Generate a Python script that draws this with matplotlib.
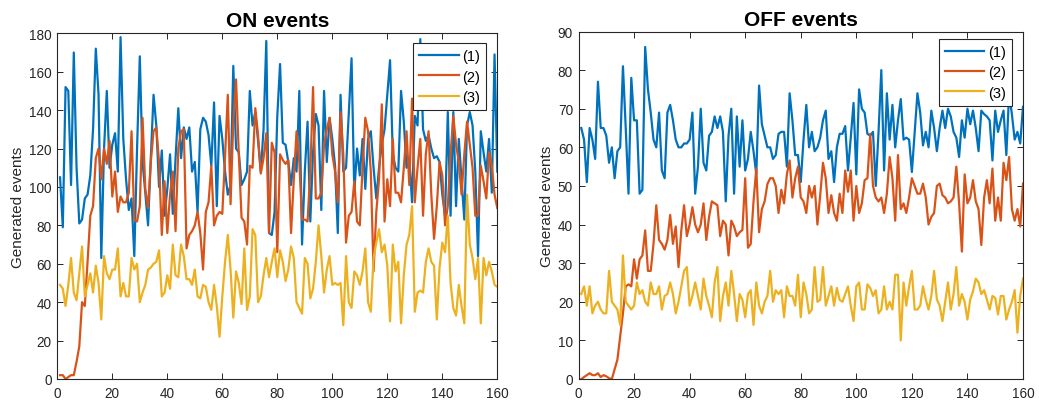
import matplotlib
matplotlib.use("Agg")
import matplotlib.pyplot as plt
import numpy as np

# ---------------- data ----------------
x = list(range(1, 161))

on_1 = [105, 79, 152, 150, 101, 170, 110, 81, 83, 94,
        96, 106, 130, 172, 148, 63, 120, 150, 110, 122,
        128, 108, 178, 125, 104, 88, 94, 64, 120, 168,
        113, 97, 80, 115, 148, 132, 100, 119, 85, 99,
        117, 86, 115, 141, 115, 131, 125, 131, 108, 113,
        87, 130, 136, 134, 127, 111, 144, 90, 137, 125,
        108, 96, 101, 163, 120, 118, 101, 104, 108, 150,
        132, 139, 124, 108, 130, 176, 76, 75, 87, 137,
        164, 123, 122, 113, 101, 115, 108, 150, 70, 108,
        134, 82, 118, 138, 132, 88, 150, 113, 136, 125,
        111, 76, 148, 108, 110, 139, 167, 97, 120, 106,
        125, 99, 125, 129, 110, 94, 110, 122, 130, 148,
        166, 117, 110, 108, 150, 134, 110, 115, 92, 137,
        132, 177, 130, 124, 127, 120, 115, 116, 113, 96,
        85, 139, 85, 139, 90, 125, 104, 83, 132, 139,
        132, 108, 64, 129, 118, 108, 125, 97, 169, 108]

on_2 = [2, 2, 0, 1, 2, 2, 9, 17, 40, 38,
        61, 85, 90, 115, 120, 104, 120, 112, 124, 95,
        108, 87, 95, 92, 92, 97, 129, 83, 82, 90,
        136, 99, 89, 113, 129, 131, 113, 75, 103, 76,
        96, 108, 77, 120, 129, 130, 68, 75, 77, 80,
        87, 76, 57, 87, 92, 111, 80, 85, 87, 86,
        116, 148, 91, 134, 156, 117, 84, 82, 70, 111,
        110, 141, 127, 107, 115, 128, 76, 123, 118, 66,
        117, 114, 112, 114, 76, 104, 129, 113, 83, 83,
        82, 108, 152, 94, 94, 97, 122, 130, 136, 117,
        108, 92, 139, 117, 71, 85, 87, 103, 82, 80,
        110, 136, 129, 108, 56, 87, 104, 143, 82, 104,
        90, 125, 97, 97, 92, 110, 129, 101, 146, 92,
        110, 125, 85, 117, 129, 96, 73, 90, 113, 106,
        80, 90, 117, 137, 122, 113, 96, 117, 134, 122,
        110, 85, 85, 111, 103, 94, 118, 111, 96, 89]

on_3 = [49, 47, 38, 49, 63, 45, 41, 55, 69, 43,
        49, 55, 45, 59, 50, 31, 64, 55, 52, 57,
        57, 68, 43, 50, 43, 43, 63, 57, 60, 40,
        45, 49, 57, 58, 60, 61, 67, 43, 45, 54,
        47, 70, 54, 53, 70, 64, 52, 52, 49, 57,
        43, 42, 49, 48, 40, 36, 49, 38, 22, 43,
        61, 75, 57, 32, 56, 50, 39, 68, 36, 43,
        78, 75, 40, 43, 54, 63, 53, 61, 68, 53,
        67, 61, 51, 57, 69, 63, 40, 37, 34, 63,
        60, 42, 47, 61, 80, 64, 45, 57, 64, 49,
        50, 49, 50, 28, 64, 40, 37, 56, 54, 49,
        56, 68, 40, 35, 63, 71, 78, 66, 70, 59,
        30, 70, 56, 61, 29, 54, 70, 75, 90, 35,
        45, 46, 45, 61, 68, 61, 59, 31, 58, 71,
        66, 85, 50, 37, 33, 49, 38, 29, 96, 70,
        63, 52, 63, 29, 63, 54, 61, 56, 49, 48]

off_1 = [65, 62, 51, 65, 62, 57, 77, 65, 65, 63,
         56, 60, 52, 59, 60, 81, 65, 48, 78, 67,
         67, 48, 49, 86, 75, 69, 62, 60, 69, 54,
         52, 69, 71, 67, 62, 60, 60, 61, 61, 62,
         69, 48, 55, 70, 56, 54, 63, 64, 68, 65,
         68, 64, 46, 63, 70, 48, 68, 55, 67, 54,
         57, 64, 59, 53, 76, 66, 63, 60, 60, 57,
         58, 63.5, 64, 64, 55, 74, 67, 58, 58, 51,
         62, 71, 60, 64, 59, 60, 62.5, 67, 69.5, 57,
         59, 51, 60, 63.5, 63.5, 65.5, 54, 62.5, 71.5, 53,
         75, 70, 69, 63.5, 63, 64, 50, 64, 80, 54,
         74, 62, 71, 60, 67, 72.5, 62, 62.5, 62, 53.6,
         64, 74, 69, 60.5, 64, 60, 69.5, 65, 59, 65,
         69.5, 65, 70, 68, 64, 62.5, 57.5, 67, 62.5, 70,
         66, 69.5, 65, 59, 69.5, 68.6, 68, 67, 56.6, 69.5,
         64, 67, 69.5, 58, 74, 68.6, 62, 64, 61, 70.5]

off_2 = [0, 0.5, 1, 1.5, 1, 1, 1.5, 0.5, 1, 0.7,
         0.2, 0, 2.5, 5, 11, 17, 24, 24.5, 24, 31,
         26, 31, 32, 38.5, 28, 28, 35, 45, 36, 35,
         33.5, 36, 42.5, 35, 39.5, 29, 38.5, 45, 37, 40,
         44.5, 40, 38, 40, 45.5, 36, 42, 46, 45.5, 45,
         37, 41, 40, 32, 41, 39.5, 37, 38, 38.6, 52,
         34, 35, 46, 54.5, 38, 44, 46, 50.5, 52, 52,
         50, 43, 49, 45.5, 53, 56.6, 47, 52, 55, 47,
         46, 43, 50, 47, 50, 40, 47.6, 56, 52, 43,
         47.6, 43, 41, 48, 43, 54, 48.5, 54, 41, 50,
         43, 45.5, 51.5, 52, 63.5, 50, 47, 46, 47, 43,
         48, 57.5, 52, 41, 58, 44, 45.5, 43, 47, 52,
         50, 48, 48, 50.6, 47, 40, 42, 43, 50, 50.6,
         47.6, 47, 45.5, 46, 47, 55, 45.5, 33, 53, 45.5,
         47, 51.5, 46, 44, 34.7, 47, 51.5, 45.5, 54.5, 41,
         47, 41, 56, 51.5, 57.5, 44, 41, 44, 39.5, 50.6]

off_3 = [22, 24, 19, 24, 17, 19, 20, 18, 17, 17,
         28, 20, 19, 18, 14, 32, 20, 19, 18, 19,
         25, 22, 23, 20, 19, 25, 22, 22, 24, 18,
         21.5, 22, 25, 22, 17, 20, 24, 28, 29, 19,
         21.5, 25, 21.5, 18, 26, 21.5, 19, 16, 25, 29,
         15, 21.5, 25, 19, 28, 22, 15, 22, 20.5, 16,
         22, 23, 14, 25, 19, 17, 20, 21.5, 28, 20,
         23, 22, 23, 16, 24, 21.5, 21.5, 19, 27, 16,
         25, 22, 17, 18, 29, 20, 20.5, 29, 19, 21.5,
         24, 19, 23.6, 20.5, 20, 22, 24, 19, 15, 24,
         25, 18, 18, 24.5, 23.6, 21.5, 23, 17, 18, 24,
         18, 20, 18, 27, 27, 10, 25, 19, 24, 28,
         18, 18, 19, 24, 20.6, 18, 21.5, 28, 20.6, 19,
         15, 20, 25, 18, 22, 29, 19, 22, 20, 15.4,
         20.6, 22.7, 26, 25, 22, 23, 20.6, 18, 21.5, 21,
         16.7, 21.5, 21.5, 15.4, 18, 20, 23, 12, 21.5, 26]

labels = ["(1)", "(2)", "(3)"]
titles = ["ON events", "OFF events"]
ylabel = "Generated events"
xticks = list(range(0, 161, 20))
yticks_on = list(range(0, 181, 20))
yticks_off = list(range(0, 91, 10))

# ---------------- style ----------------
plt.rcParams['font.family'] = ['Liberation Sans', 'DejaVu Sans']
colors = ['#0072BD', '#D95319', '#EDB120']
axcol = '#262626'

fig = plt.figure(figsize=(10.39, 4.06), dpi=100)
ax1 = fig.add_axes([57.3 / 1039, 26 / 406, 440 / 1039, (380 - 34.3) / 406])
ax2 = fig.add_axes([578.5 / 1039, 26 / 406, 444.5 / 1039, (380 - 32.5) / 406])

def style(ax, series, title, yticks, ymax, leg_anchor):
    for s, c, lab in zip(series, colors, labels):
        ax.plot(x, s, color=c, lw=1.6, label=lab, solid_joinstyle='round')
    ax.set_xlim(0, 160)
    ax.set_ylim(0, ymax)
    ax.set_xticks(xticks)
    ax.set_yticks(yticks)
    ax.tick_params(direction='in', length=4, width=0.7, colors=axcol,
                   labelsize=9.8, top=True, right=True, pad=4)
    ax.tick_params(axis='x', pad=5)
    for sp in ax.spines.values():
        sp.set_color(axcol)
        sp.set_linewidth(0.8)
    ax.set_title(title, fontsize=15, fontweight='bold', pad=5, color='black')
    ax.set_ylabel(ylabel, fontsize=11, color=axcol, labelpad=3)
    leg = ax.legend(loc='upper right', bbox_to_anchor=leg_anchor, fontsize=10.5,
                    frameon=True, fancybox=False, framealpha=1, edgecolor='#262626',
                    handlelength=2.7, handletextpad=0.25, labelspacing=0.42,
                    borderpad=0.42, borderaxespad=0)
    leg.get_frame().set_linewidth(0.8)
    for t in leg.get_texts():
        t.set_color('black')

style(ax1, [on_1, on_2, on_3], titles[0], yticks_on, 180, (0.975, 0.971))
style(ax2, [off_1, off_2, off_3], titles[1], yticks_off, 90, (0.975, 0.978))

fig.savefig("out.png", dpi=100)
